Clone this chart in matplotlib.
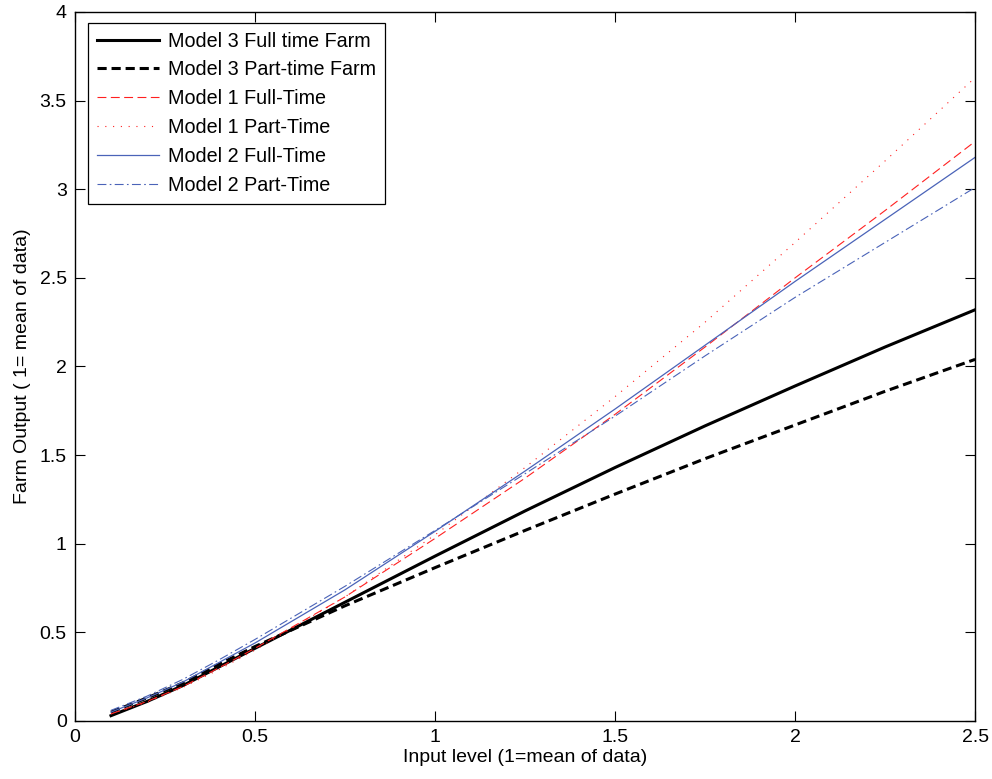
import matplotlib
matplotlib.use("Agg")
import matplotlib.pyplot as plt

x = [0.1, 0.2, 0.3, 0.4, 0.5, 0.75, 1.0, 1.25, 1.5, 1.75, 2.0, 2.25, 2.5]
m3_full = [0.03, 0.11, 0.20, 0.305, 0.41, 0.67, 0.93, 1.185, 1.43, 1.665, 1.89, 2.11, 2.32]
m3_part = [0.05, 0.13, 0.215, 0.32, 0.42, 0.65, 0.865, 1.075, 1.28, 1.48, 1.67, 1.86, 2.04]
m1_full = [0.04, 0.11, 0.195, 0.30, 0.41, 0.70, 1.03, 1.37, 1.73, 2.11, 2.50, 2.88, 3.27]
m1_part = [0.04, 0.105, 0.19, 0.29, 0.40, 0.70, 1.05, 1.43, 1.83, 2.25, 2.70, 3.16, 3.63]
m2_full = [0.05, 0.13, 0.22, 0.33, 0.44, 0.74, 1.07, 1.41, 1.76, 2.12, 2.48, 2.83, 3.18]
m2_part = [0.06, 0.14, 0.235, 0.345, 0.46, 0.76, 1.075, 1.395, 1.72, 2.06, 2.39, 2.70, 3.01]

labels = ["Model 3 Full time Farm", "Model 3 Part-time Farm", "Model 1 Full-Time",
          "Model 1 Part-Time", "Model 2 Full-Time", "Model 2 Part-Time"]

plt.rcParams['font.family'] = ['Liberation Sans', 'DejaVu Sans']
fig = plt.figure(figsize=(9.92, 7.79), dpi=100)
ax = fig.add_axes([0.0756, 0.0745, 0.9074, 0.9101])

red = '#ff2020'
blue = '#4a63b8'
ax.plot(x, m3_full, color='black', lw=2.2, ls='-', label=labels[0])
ax.plot(x, m3_part, color='black', lw=2.2, ls=(0, (3, 1.6)), label=labels[1])
ax.plot(x, m1_full, color=red, lw=0.8, ls=(0, (8, 4)), label=labels[2])
ax.plot(x, m1_part, color=red, lw=0.8, ls=(0, (1, 6)), label=labels[3])
ax.plot(x, m2_full, color=blue, lw=0.9, ls='-', label=labels[4])
ax.plot(x, m2_part, color=blue, lw=0.8, ls=(0, (8, 3, 1.5, 3)), label=labels[5])

ax.set_xlim(0, 2.5)
ax.set_ylim(0, 4)
ax.set_xticks([0, 0.5, 1, 1.5, 2, 2.5])
ax.set_xticklabels(['0', '0.5', '1', '1.5', '2', '2.5'])
ax.set_yticks([0, 0.5, 1, 1.5, 2, 2.5, 3, 3.5, 4])
ax.set_yticklabels(['0', '0.5', '1', '1.5', '2', '2.5', '3', '3.5', '4'])
ax.tick_params(direction='in', top=True, right=True, labelsize=14, length=7, width=0.8, pad=6)
for s in ax.spines.values():
    s.set_linewidth(1.0)
ax.set_xlabel('Input level (1=mean of data)', fontsize=14, labelpad=2)
ax.set_ylabel('Farm Output ( 1= mean of data)', fontsize=14, labelpad=6)

leg = ax.legend(loc='upper left', bbox_to_anchor=(0.015, 0.985), fontsize=14.2,
                frameon=True, fancybox=False, edgecolor='black', framealpha=1,
                handlelength=3.1, labelspacing=0.5, borderpad=0.45, handletextpad=0.5,
                borderaxespad=0)
leg.get_frame().set_linewidth(0.9)

fig.savefig('out.png', dpi=100)
